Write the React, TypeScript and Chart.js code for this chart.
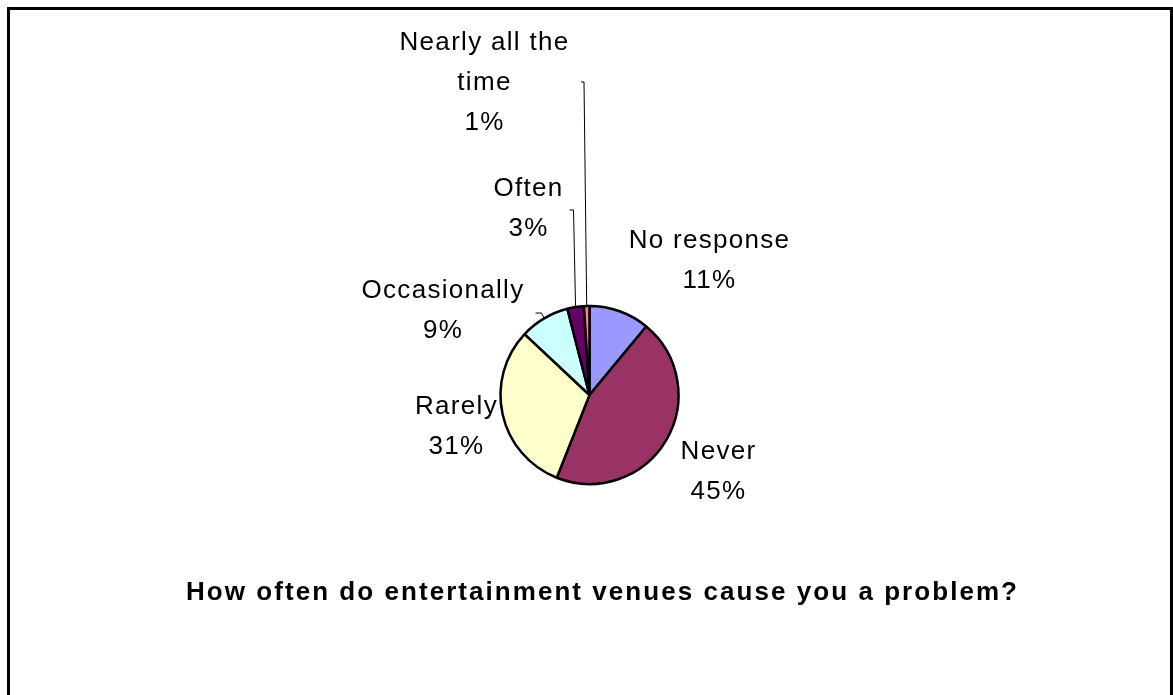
import React, { useEffect, useRef } from "react";
import { Chart, registerables } from "chart.js";

Chart.register(...registerables);

const categories = ["No response", "Never", "Rarely", "Occasionally", "Often", "Nearly all the time"];
const values = [11, 45, 31, 9, 3, 1];
const percentLabels = ["11%", "45%", "31%", "9%", "3%", "1%"];
const labelLines = [
  ["No response"],
  ["Never"],
  ["Rarely"],
  ["Occasionally"],
  ["Often"],
  ["Nearly all the", "time"],
];
const sliceColors = ["#9999FF", "#993366", "#FFFFCC", "#CCFFFF", "#660066", "#FF8080"];
const titleText = "How often do entertainment venues cause you a problem?";

// label layout relative to pie centre: x centre, first baseline
const labelLayout = [
  { dx: 120, dy: -147 },
  { dx: 129, dy: 64 },
  { dx: -133, dy: 19 },
  { dx: -146.5, dy: -97 },
  { dx: -61, dy: -199 },
  { dx: -105, dy: -345 },
];
// leader lines: anchor relative to pie centre, tick direction length
const leaderLayout: ({ ax: number; ay: number; tx: number } | null)[] = [
  null,
  null,
  null,
  { ax: -48, ay: -82, tx: -6 },
  { ax: -16, ay: -185, tx: -4 },
  { ax: -5.5, ay: -313, tx: -3 },
];

const framePlugin = {
  id: "frame",
  beforeDraw(chart: any) {
    const { ctx, width, height } = chart;
    ctx.save();
    ctx.fillStyle = "#ffffff";
    ctx.fillRect(0, 0, width, height);
    ctx.strokeStyle = "#000000";
    ctx.lineWidth = 3;
    ctx.strokeRect(8.5, 8.5, 1163, height + 20);
    ctx.restore();
  },
};

const labelPlugin = {
  id: "pieLabels",
  afterDraw(chart: any) {
    const { ctx } = chart;
    const meta = chart.getDatasetMeta(0);
    ctx.save();
    meta.data.forEach((arc: any, i: number) => {
      const { x, y, startAngle, endAngle, outerRadius } = arc.getProps(
        ["x", "y", "startAngle", "endAngle", "outerRadius"],
        true
      );
      const mid = (startAngle + endAngle) / 2;
      const lead = leaderLayout[i];
      if (lead) {
        const ex = x + Math.cos(mid) * outerRadius;
        const ey = y + Math.sin(mid) * outerRadius;
        ctx.strokeStyle = "#000000";
        ctx.lineWidth = 1;
        ctx.beginPath();
        ctx.moveTo(ex, ey);
        ctx.lineTo(x + lead.ax, y + lead.ay);
        ctx.lineTo(x + lead.ax + lead.tx, y + lead.ay);
        ctx.stroke();
      }
      const lay = labelLayout[i];
      const lines = [...labelLines[i], percentLabels[i]];
      ctx.fillStyle = "#000000";
      ctx.font = "26px 'Liberation Sans', Arial, sans-serif";
      (ctx as any).letterSpacing = "1.3px";
      ctx.textAlign = "center";
      ctx.textBaseline = "alphabetic";
      lines.forEach((ln, k) => {
        ctx.fillText(ln, x + lay.dx, y + lay.dy + k * 40);
      });
    });
    ctx.font = "bold 26px 'Liberation Sans', Arial, sans-serif";
    (ctx as any).letterSpacing = "2.05px";
    ctx.textAlign = "center";
    ctx.fillText(titleText, 602.5, 600);
    ctx.restore();
  },
};

export default function App() {
  const ref = useRef<HTMLCanvasElement | null>(null);
  useEffect(() => {
    if (!ref.current) return;
    const chart = new Chart(ref.current, {
      type: "pie",
      data: {
        labels: categories,
        datasets: [
          {
            data: values,
            backgroundColor: sliceColors,
            borderColor: "#000000",
            borderWidth: 2.5,
          },
        ],
      },
      options: {
        responsive: false,
        animation: false,
        devicePixelRatio: 1,
        radius: 89,
        layout: { padding: { left: 100, right: 94, top: 150, bottom: 55 } },
        plugins: {
          legend: { display: false },
          tooltip: { enabled: false },
          title: { display: false },
        },
      } as any,
      plugins: [framePlugin, labelPlugin],
    });
    return () => chart.destroy();
  }, []);
  return (
    <div style={{ position: "fixed", left: 0, top: 0, width: 1173, height: 695 }}>
      <canvas ref={ref} width={1173} height={695} />
    </div>
  );
}
